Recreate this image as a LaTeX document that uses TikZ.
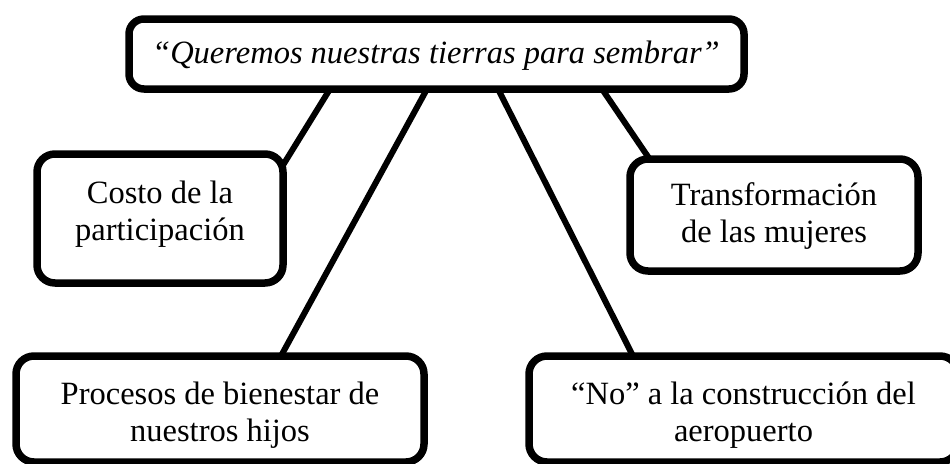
\documentclass[tikz,border=0pt]{standalone}
\usepackage{fontspec}
\setmainfont{Liberation Serif}
\usetikzlibrary{backgrounds}
\begin{document}
\begin{tikzpicture}[x=1pt,y=-1pt,
  box/.style={draw=black,line width=7.5pt,fill=white,rounded corners=18pt,
    inner sep=0pt,outer sep=0pt,rectangle},
  txt/.style={inner sep=0pt,font=\fontsize{32.5}{37}\selectfont,align=center},
  link/.style={draw=black,line width=6pt}]
\useasboundingbox (0,0) rectangle (950,463);
\clip (0,0) rectangle (950,463);
% boxes
\node[box,rounded corners=15pt,minimum width=615pt,minimum height=70pt] (top) at (436.5,54) {};
\node[box,minimum width=246pt,minimum height=129pt] (costo) at (160,218.5) {};
\node[box,minimum width=288pt,minimum height=112pt] (transf) at (774,215) {};
\node[box,minimum width=408pt,minimum height=106pt] (proc) at (220,409) {};
\node[box,minimum width=429pt,minimum height=106pt] (no) at (743.5,409) {};
% texts
\node[txt,anchor=base] (topt) at (436,63) {\itshape “Queremos nuestras tierras para sembrar”};
\node[txt] (costot) at (160,214) {Costo de la\\participación};
\node[txt] (transft) at (774,216.5) {Transformación\\de las mujeres};
\node[txt] (proct) at (220,415) {Procesos de bienestar de\\nuestros hijos};
\node[txt] (not) at (743.5,415) {“No” a la construcción del\\aeropuerto};
% connectors
\begin{scope}[on background layer]
\draw[link] ([xshift=201pt]top.south west) -- ([xshift=-3pt,yshift=-16pt]costo.north east);
\draw[link] ([xshift=298pt]top.south west) -- ([xshift=265pt]proc.north west);
\draw[link] ([xshift=369pt]top.south west) -- ([xshift=104pt]no.north west);
\draw[link] ([xshift=473pt]top.south west) -- ([xshift=27pt,yshift=-11pt]transf.north west);
\end{scope}
\end{tikzpicture}
\end{document}
